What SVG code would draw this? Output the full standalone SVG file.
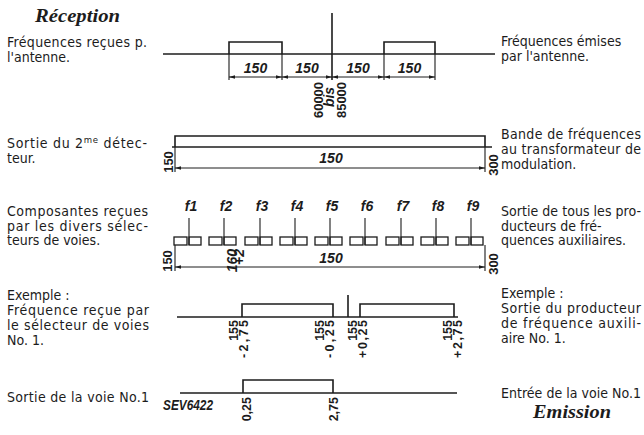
<svg xmlns="http://www.w3.org/2000/svg" width="644" height="435" viewBox="0 0 644 435">
<style>
.t{font-family:"DejaVu Sans Condensed","Liberation Sans",sans-serif;font-size:14px;fill:#1c1c1c}
.h{font-family:"Liberation Serif",serif;font-style:italic;font-weight:bold;font-size:18px;fill:#1c1c1c}
.d{font-family:"Liberation Sans",sans-serif;font-style:italic;font-weight:bold;font-size:14px;fill:#1c1c1c}
.r{font-family:"Liberation Sans",sans-serif;font-weight:bold;font-size:13px;fill:#1c1c1c}
.v{font-family:"Liberation Sans",sans-serif;font-weight:bold;font-size:12.5px;fill:#1c1c1c}
.ln{fill:none;stroke:#1c1c1c;stroke-width:1.6}
.ex{fill:none;stroke:#1c1c1c;stroke-width:1.1}
.dm{fill:none;stroke:#1c1c1c;stroke-width:1;marker-start:url(#ar);marker-end:url(#ar)}
.bx{fill:none;stroke:#1c1c1c;stroke-width:1.3}
</style>
<defs>
<marker id="ar" viewBox="0 0 10 6" refX="10" refY="3" markerWidth="6" markerHeight="3.6" markerUnits="userSpaceOnUse" orient="auto-start-reverse"><path d="M0,0 L10,3 L0,6z" fill="#1c1c1c"/></marker>
</defs>
<rect width="644" height="435" fill="#ffffff"/>

<g id="titles">
<text class="h" x="35" y="22" textLength="85" lengthAdjust="spacingAndGlyphs">Réception</text>
<text class="h" x="533" y="418" textLength="78" lengthAdjust="spacingAndGlyphs">Emission</text>
<text class="d" x="163" y="410" font-size="11" textLength="50" lengthAdjust="spacingAndGlyphs">SEV6422</text>
</g>

<g id="left-labels">
<text class="t" x="7" y="47" textLength="140">Fréquences reçues p.</text>
<text class="t" x="7" y="62">l'antenne.</text>
<text class="t" x="7" y="148" textLength="140">Sortie du 2<tspan font-size="9.5" dy="-5">me</tspan><tspan dy="5"> détec-</tspan></text>
<text class="t" x="7" y="163">teur.</text>
<text class="t" x="7" y="216" textLength="141">Composantes reçues</text>
<text class="t" x="7" y="230.5" textLength="141">par les divers sélec-</text>
<text class="t" x="7" y="245">teurs de voies.</text>
<text class="t" x="7" y="300">Exemple :</text>
<text class="t" x="7" y="315" textLength="142">Fréquence reçue par</text>
<text class="t" x="7" y="330" textLength="142">le sélecteur de voies</text>
<text class="t" x="7" y="345">No. 1.</text>
<text class="t" x="7" y="402" textLength="142">Sortie de la voie No.1</text>
</g>

<g id="right-labels">
<text class="t" x="501" y="46">Fréquences émises</text>
<text class="t" x="501" y="61">par l'antenne.</text>
<text class="t" x="501" y="139" textLength="140">Bande de fréquences</text>
<text class="t" x="501" y="154" textLength="140">au transformateur de</text>
<text class="t" x="501" y="169">modulation.</text>
<text class="t" x="501" y="216" textLength="140">Sortie de tous les pro-</text>
<text class="t" x="501" y="230.5">ducteurs de fré-</text>
<text class="t" x="501" y="245">quences auxiliaires.</text>
<text class="t" x="501" y="298">Exemple :</text>
<text class="t" x="501" y="313" textLength="140">Sortie du producteur</text>
<text class="t" x="501" y="328" textLength="140">de fréquence auxili-</text>
<text class="t" x="501" y="343">aire No. 1.</text>
<text class="t" x="501" y="398" textLength="140">Entrée de la voie No.1</text>
</g>

<g id="row-antenna">
<path class="ln" d="M163,54 H495"/>
<path class="ln" d="M332,13 V80"/>
<path class="ln" d="M229,54 V42 H282 V54"/>
<path class="ln" d="M384,54 V42 H435 V54"/>
<path class="ex" d="M229,54 V80 M282,54 V80 M384,54 V80 M435,54 V80"/>
<text class="d" x="255.5" y="73" text-anchor="middle">150</text>
<text class="d" x="307" y="73" text-anchor="middle">150</text>
<text class="d" x="358" y="73" text-anchor="middle">150</text>
<text class="d" x="409.5" y="73" text-anchor="middle">150</text>
<text class="r" transform="translate(323,100) rotate(-90)" text-anchor="middle">60000</text>
<text class="d" font-size="13" transform="translate(334,97) rotate(-90)" text-anchor="middle">bis</text>
<text class="r" transform="translate(346,100) rotate(-90)" text-anchor="middle">85000</text>
</g>

<g id="row-detector">
<path class="ln" d="M175,147 V136 H485 V147"/>
<path class="ln" d="M172,147 H492"/>
<path class="ex" d="M175,147 V172 M485,147 V172"/>
<text class="d" x="331" y="163" text-anchor="middle">150</text>
<text class="r" transform="translate(173,162) rotate(-90)" text-anchor="middle">150</text>
<text class="r" transform="translate(498,165) rotate(-90)" text-anchor="middle">300</text>
</g>

<g id="row-comb">
<g class="bx">
<rect x="174" y="237" width="13" height="8"/><rect x="189" y="237" width="12" height="8"/>
<rect x="209" y="237" width="13" height="8"/><rect x="224" y="237" width="12" height="8"/>
<rect x="245" y="237" width="13" height="8"/><rect x="260" y="237" width="12" height="8"/>
<rect x="280" y="237" width="13" height="8"/><rect x="295" y="237" width="12" height="8"/>
<rect x="315" y="237" width="13" height="8"/><rect x="330" y="237" width="12" height="8"/>
<rect x="350" y="237" width="13" height="8"/><rect x="365" y="237" width="12" height="8"/>
<rect x="386" y="237" width="13" height="8"/><rect x="401" y="237" width="12" height="8"/>
<rect x="421" y="237" width="13" height="8"/><rect x="436" y="237" width="12" height="8"/>
<rect x="456" y="237" width="13" height="8"/><rect x="471" y="237" width="12" height="8"/>
</g>
<path class="ex" d="M189,218 V245 M224,218 V245 M260,218 V245 M295,218 V245 M330,218 V245 M365,218 V245 M401,218 V245 M436,218 V245 M471,218 V245"/>
<g class="d" text-anchor="middle">
<text x="191" y="211">f1</text><text x="226" y="211">f2</text><text x="262" y="211">f3</text>
<text x="297" y="211">f4</text><text x="332" y="211">f5</text><text x="367" y="211">f6</text>
<text x="403" y="211">f7</text><text x="438" y="211">f8</text><text x="473" y="211">f9</text>
</g>
<path class="ex" d="M175,245 V271 M485,245 V271"/>
<text class="d" x="331" y="263" text-anchor="middle">150</text>
<text class="d" font-size="8" transform="translate(237,249) rotate(-90)" text-anchor="end">160</text>
<text class="d" font-size="8" transform="translate(244,249) rotate(-90)" text-anchor="end">+2</text>
<text class="r" transform="translate(172,261) rotate(-90)" text-anchor="middle">150</text>
<text class="r" transform="translate(498,264) rotate(-90)" text-anchor="middle">300</text>
</g>

<g id="row-example">
<path class="ln" d="M177,317 H458"/>
<path class="ln" d="M242,317 V304 H333 V317"/>
<path class="ln" d="M348,295 V317"/>
<path class="ln" d="M360,317 V304 H454 V317"/>
<text class="v" transform="translate(238,320) rotate(-90)" text-anchor="end">155</text>
<text class="v" transform="translate(248,320) rotate(-90)" text-anchor="end" textLength="38">-2,75</text>
<text class="v" transform="translate(324,320) rotate(-90)" text-anchor="end">155</text>
<text class="v" transform="translate(334,320) rotate(-90)" text-anchor="end" textLength="38">-0,25</text>
<text class="v" transform="translate(357,320) rotate(-90)" text-anchor="end">155</text>
<text class="v" transform="translate(367,320) rotate(-90)" text-anchor="end" textLength="38">+0,25</text>
<text class="v" transform="translate(452,320) rotate(-90)" text-anchor="end">155</text>
<text class="v" transform="translate(462,320) rotate(-90)" text-anchor="end" textLength="38">+2,75</text>
</g>

<g id="row-output">
<path class="ln" d="M180,393 H457"/>
<path class="ln" d="M243,393 V380 H333 V393"/>
<text class="v" transform="translate(251,397) rotate(-90)" text-anchor="end">0,25</text>
<text class="v" transform="translate(338,397) rotate(-90)" text-anchor="end">2,75</text>
</g>

<g id="connectors">
<path class="dm" d="M229,77 H282"/>
<path class="dm" d="M282,77 H332"/>
<path class="dm" d="M332,77 H384"/>
<path class="dm" d="M384,77 H435"/>
<path class="dm" d="M175,168 H485"/>
<path class="dm" d="M175,267 H485"/>
</g>
</svg>
